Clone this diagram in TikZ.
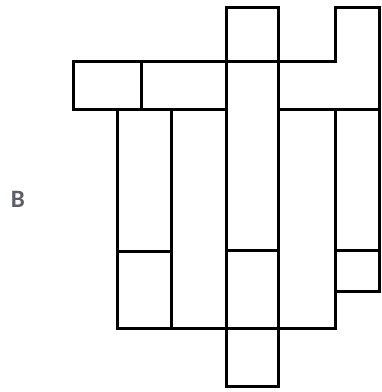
\documentclass[tikz,border=0pt]{standalone}
\usepackage{fontspec}
\setmainfont{Carlito}
\definecolor{labelgray}{HTML}{5A5F66}
\begin{document}
\begin{tikzpicture}[x=1pt,y=-1pt,
  wall/.style={draw=black,line width=3pt,line join=miter},
  lbl/.style={text=labelgray,font=\fontsize{25}{28}\selectfont\bfseries,inner sep=0pt}]
\useasboundingbox (0,0) rectangle (382,392);
% top-left row
\draw[wall] (73,61) rectangle (141.7,109);
\draw[wall] (141.7,61) rectangle (226,109);
% center column
\draw[wall] (226,7) rectangle (278,386);
\draw[wall] (226,61) -- (278,61);
\draw[wall] (226,250) -- (278,250);
\draw[wall] (226,328) -- (278,328);
% top right L shape
\draw[wall] (278,61) -- (335.5,61) -- (335.5,7.5) -- (379.5,7.5) -- (379.5,109) -- (278,109);
% left columns
\draw[wall] (117,109) rectangle (171,328);
\draw[wall] (117,251.5) -- (171,251.5);
\draw[wall] (171,109) rectangle (226,328);
% column 4
\draw[wall] (278,109) rectangle (335.5,328);
% right column
\draw[wall] (335.5,109) rectangle (379.5,291);
\draw[wall] (335.5,250) -- (379.5,250);
% label
\node[lbl] (b) at (18,199.5) {B};
\end{tikzpicture}
\end{document}
